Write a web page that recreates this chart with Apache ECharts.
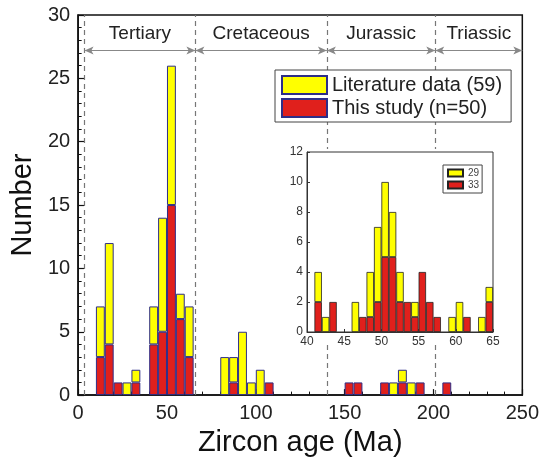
<!DOCTYPE html>
<html><head><meta charset="utf-8">
<script src="https://cdn.jsdelivr.net/npm/echarts@6/dist/echarts.min.js"></script>
<style>html,body{margin:0;padding:0;background:#fff}#c{width:542px;height:462px}</style>
</head><body><div id="c"></div>
<script>
// ---- Main histogram: 5 Ma bins (left edge of each bin) ----
const mainBinStarts   = [10,15,20,25,30,40,45,50,55,60,80,85,90,95,100,105,150,155,170,175,180,185,190,205];
const mainThisStudy   = [3, 4, 1, 0, 1, 4, 5,15, 6, 3, 0, 1, 0, 0, 0, 1, 1, 1, 1, 0, 1, 0, 1, 1];
const mainLiterature  = [4, 8, 0, 1, 1, 3, 9,11, 2, 4, 3, 2, 5, 1, 2, 0, 0, 0, 0, 1, 1, 1, 0, 0];
const mainRange = [0, 250], mainBinWidth = 5;
// ---- Inset histogram: 1 Ma bins (left edge) ----
const insetBinStarts  = [41,42,43,46,47,48,49,50,51,52,53,54,55,56,57,59,60,61,63,64];
const insetThisStudy  = [2, 0, 2, 0, 1, 1, 2, 5, 5, 2, 2, 1, 4, 2, 1, 0, 0, 1, 0, 2];
const insetLiterature = [2, 1, 0, 2, 0, 3, 5, 5, 3, 2, 0, 1, 0, 0, 0, 1, 2, 0, 1, 1];
const insetRange = [40, 65], insetBinWidth = 1;
// ---- Geological periods ----
const periodNames  = ['Tertiary','Cretaceous','Jurassic','Triassic'];
const periodStarts = [3.6, 66, 140, 201];
const periodEnds   = [66, 140, 201, 250];
const periodArrowLevel = 27.2;
const boundaryLines = [3.6, 66, 140, 201];
// ---- Names ----
const mainNames  = ['Literature data (59)', 'This study (n=50)'];
const insetNames = ['29', '33'];

const FONT = 'Liberation Sans, Arial, sans-serif';
const YELLOW = '#ffff00', RED = '#e0201c';

// category bins spanning an axis range (hidden band axis so bars fill each bin exactly)
function binCats(range, w){ const c=[]; for(let v=range[0]; v<range[1]; v+=w) c.push(v); return c; }
function binData(cats, starts, vals){ return cats.map(c=>{ const i=starts.indexOf(c); return (i>=0 && vals[i]>0) ? vals[i] : '-'; }); }
const mainCats = binCats(mainRange, mainBinWidth);
const insetCats = binCats(insetRange, insetBinWidth);

const chart = echarts.init(document.getElementById('c'), null, {renderer:'canvas'});
const axisCommon = (fs) => ({
  axisLine:{show:true, lineStyle:{color:'#111', width:1.5}},
  axisTick:{show:true, inside:true, length:6, lineStyle:{color:'#111', width:1.2}},
  minorTick:{show:true, splitNumber:5, length:3.5, lineStyle:{color:'#111', width:1}},
  splitLine:{show:false},
  axisLabel:{fontSize:fs, color:'#222', fontFamily:FONT},
});
const option = {
  animation:false,
  textStyle:{fontFamily:FONT},
  grid:[
    {left:74, top:15, width:452, height:390, show:true, borderColor:'#111', borderWidth:1.5, backgroundColor:'transparent'},
    {left:307, top:152, width:186, height:180, show:true, borderColor:'#333', borderWidth:1, backgroundColor:'#fff', z:20}
  ],
  graphic:[{type:'rect', z:10, silent:true, shape:{x:284, y:149, width:218, height:196}, style:{fill:'#fff'}}],
  legend:[
    {data:mainNames, orient:'vertical', left:275, top:70, padding:[5,9,4,6], itemWidth:45, itemHeight:18, itemGap:3,
     icon:'rect', backgroundColor:'#fff', borderColor:'#444', borderWidth:1, selectedMode:false,
     textStyle:{fontSize:20, color:'#222', fontFamily:FONT}, z:6},
    {data:insetNames, orient:'vertical', left:443, top:165, padding:[3,3,3,4], itemWidth:15, itemHeight:7, itemGap:2,
     icon:'rect', backgroundColor:'#fff', borderColor:'#444', borderWidth:1, selectedMode:false,
     textStyle:{fontSize:10, color:'#444', fontFamily:FONT, lineHeight:9}, z:25}
  ],
  xAxis:[
    {gridIndex:0, type:'category', data:mainCats, boundaryGap:true, show:false, position:'bottom'},
    Object.assign(axisCommon(20), {gridIndex:0, type:'value', min:mainRange[0], max:mainRange[1], interval:50, position:'bottom',
      name:'Zircon age (Ma)', nameLocation:'middle', nameGap:29,
      nameTextStyle:{fontSize:29, color:'#111', fontFamily:FONT}}),
    {gridIndex:1, type:'category', data:insetCats, boundaryGap:true, show:false, position:'bottom'},
    Object.assign(axisCommon(12), {gridIndex:1, type:'value', min:insetRange[0], max:insetRange[1], interval:5, z:25, position:'bottom',
      axisLine:{show:true, lineStyle:{color:'#333', width:1}},
      axisTick:{show:true, inside:true, length:3, lineStyle:{color:'#333'}},
      minorTick:{show:false}, axisLabel:{fontSize:12, color:'#333', margin:4, fontFamily:FONT}})
  ],
  yAxis:[
    Object.assign(axisCommon(20), {gridIndex:0, type:'value', min:0, max:30, interval:5,
      name:'Number', nameLocation:'middle', nameGap:36,
      nameTextStyle:{fontSize:29, color:'#111', fontFamily:FONT}}),
    Object.assign(axisCommon(12), {gridIndex:1, type:'value', min:0, max:12, interval:2, z:25,
      axisLine:{show:true, lineStyle:{color:'#333', width:1}},
      axisTick:{show:true, inside:true, length:3, lineStyle:{color:'#333'}},
      minorTick:{show:false}, axisLabel:{fontSize:12, color:'#333', margin:4, fontFamily:FONT}})
  ],
  series:[
    {name:mainNames[1], type:'bar', xAxisIndex:0, yAxisIndex:0, stack:'main', barCategoryGap:'0%',
     data:binData(mainCats, mainBinStarts, mainThisStudy),
     itemStyle:{color:RED, borderColor:'#2e2e88', borderWidth:1}, emphasis:{disabled:true}},
    {name:mainNames[0], type:'bar', xAxisIndex:0, yAxisIndex:0, stack:'main', barCategoryGap:'0%',
     data:binData(mainCats, mainBinStarts, mainLiterature),
     itemStyle:{color:YELLOW, borderColor:'#2e2e88', borderWidth:1}, emphasis:{disabled:true}},
    {name:'boundaries', type:'line', xAxisIndex:1, yAxisIndex:0, data:[], silent:true,
     markLine:{silent:true, symbol:['none','none'], animation:false,
       lineStyle:{type:[5,4], color:'#777', width:1.2}, label:{show:false},
       data:boundaryLines.map(v=>({xAxis:v}))}},
    {name:'periods', type:'line', xAxisIndex:1, yAxisIndex:0, data:[], silent:true,
     markLine:{silent:true, symbol:['arrow','arrow'], symbolSize:[6,9], animation:false,
       lineStyle:{type:'solid', color:'#888', width:1.2},
       label:{show:true, position:'insideMiddleTop', distance:7, formatter:'{b}', fontSize:19, color:'#222', fontFamily:FONT},
       data:periodNames.map((p,i)=>[{coord:[periodStarts[i], periodArrowLevel], name:p},{coord:[periodEnds[i], periodArrowLevel]}])}},
    {name:insetNames[1], type:'bar', xAxisIndex:2, yAxisIndex:1, stack:'inset', barCategoryGap:'0%', z:22,
     data:binData(insetCats, insetBinStarts, insetThisStudy),
     itemStyle:{color:RED, borderColor:'#222', borderWidth:0.8}, emphasis:{disabled:true}},
    {name:insetNames[0], type:'bar', xAxisIndex:2, yAxisIndex:1, stack:'inset', barCategoryGap:'0%', z:22,
     data:binData(insetCats, insetBinStarts, insetLiterature),
     itemStyle:{color:YELLOW, borderColor:'#222', borderWidth:0.8}, emphasis:{disabled:true}}
  ]
};
chart.setOption(option);
</script>
</body></html>
